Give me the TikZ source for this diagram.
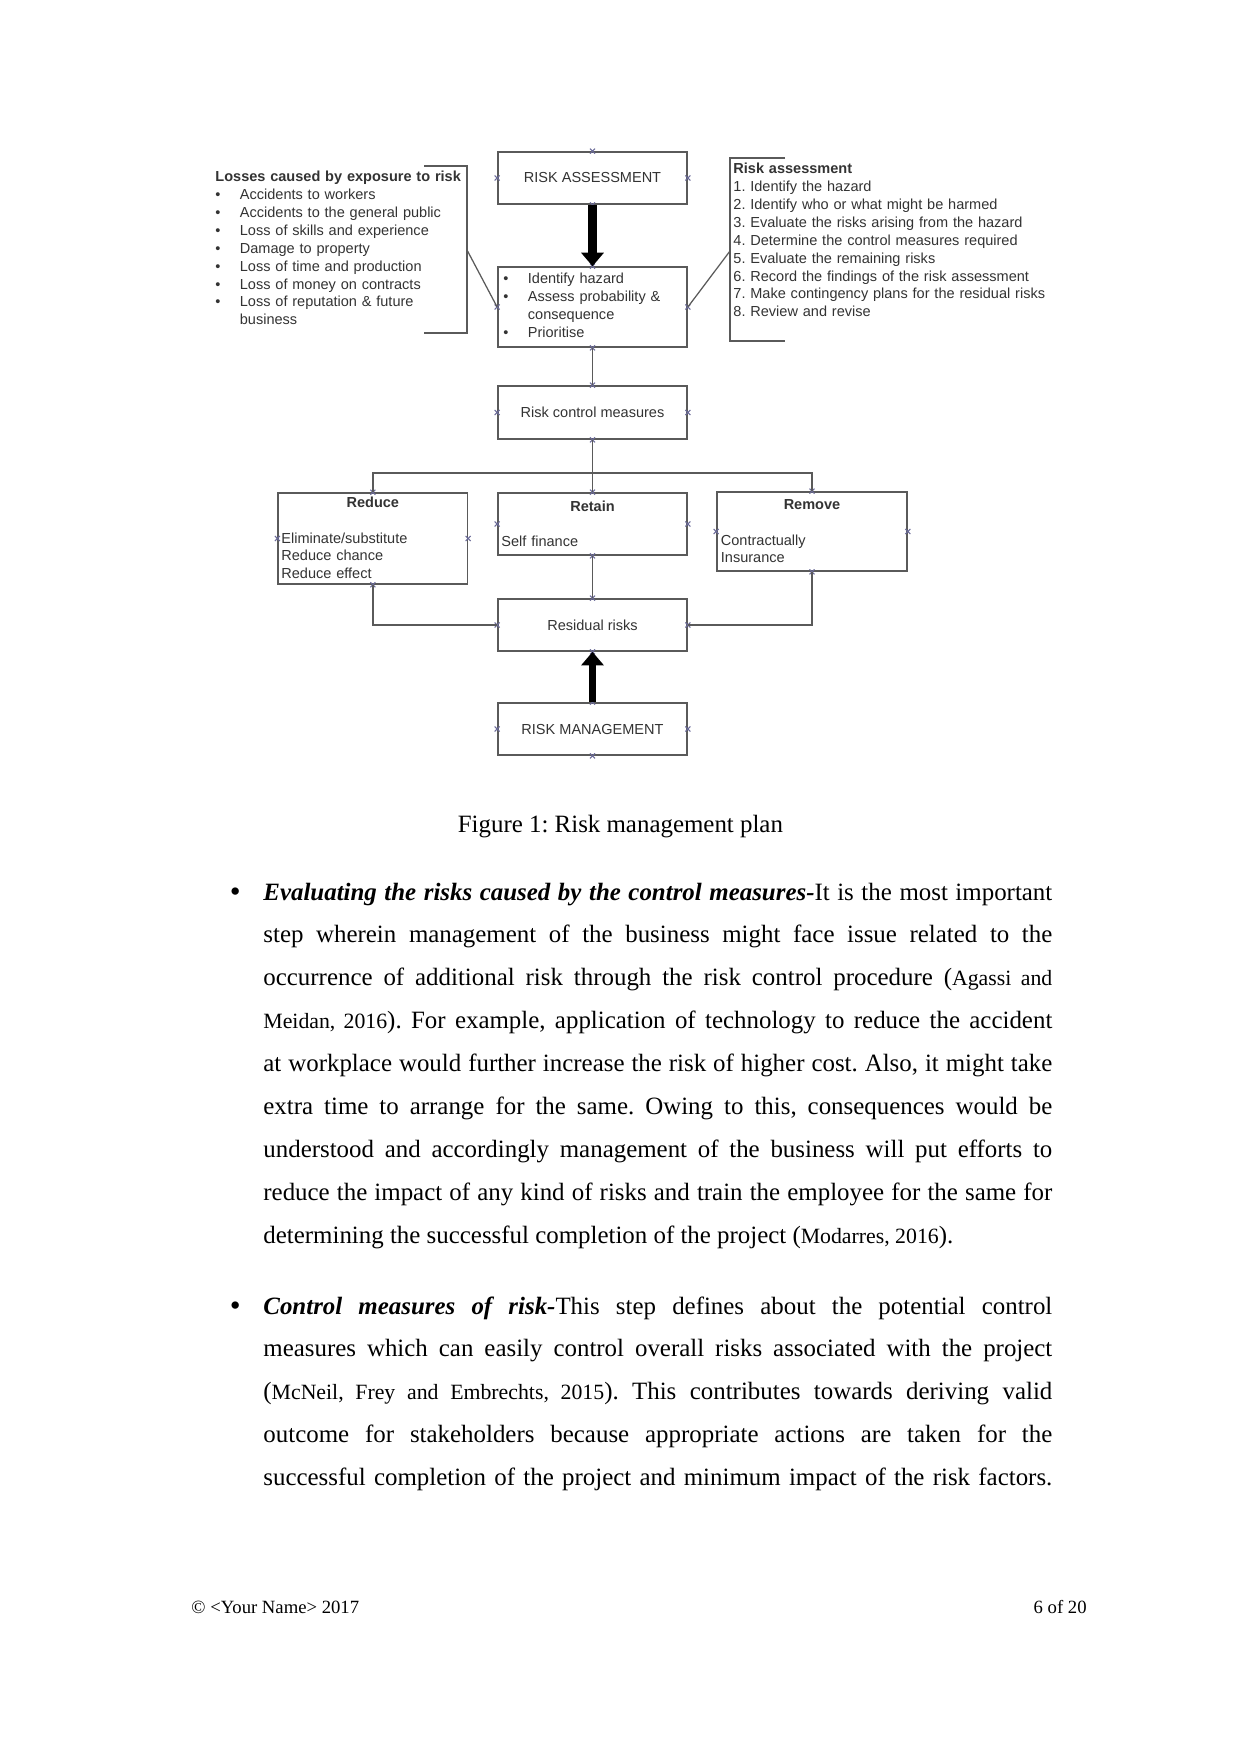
\documentclass[tikz,border=0pt]{standalone}
\usepackage{fontspec}
\setmainfont{Liberation Serif}
\newfontfamily\diagfont{Liberation Sans}
\usepackage{xcolor}
\usetikzlibrary{arrows.meta}

\definecolor{boxline}{HTML}{5A5A5A}
\definecolor{diagtext}{HTML}{333333}
\definecolor{cptcol}{HTML}{6A6A98}
\newlength\bulw
\setlength\bulw{11.8pt}
\newcommand{\lbul}{\makebox[\bulw][l]{\textbullet}}
\newcommand{\citefont}{\fontsize{10.5}{20.7}\selectfont}
\hyphenpenalty=10000
\frenchspacing

\begin{document}
\begin{tikzpicture}[x=0.4818pt, y=-0.4818pt,
  box/.style={draw=boxline, line width=0.8pt, minimum width=91.1pt, inner sep=0pt,
    font=\diagfont\fontsize{7}{8.6}\selectfont, text=diagtext},
  lbl/.style={inner sep=0pt, font=\diagfont\fontsize{7}{8.6}\selectfont, text=diagtext,
    align=left, anchor=base west, text width=80pt},
  ttl/.style={inner sep=0pt, font=\diagfont\bfseries\fontsize{7}{8.6}\selectfont,
    text=diagtext, anchor=base},
  link/.style={draw=boxline, line width=0.8pt},
  fat/.style={line width=4.3pt, -{Triangle[width=10.6pt,length=6.5pt]}},
  cpt/.style={draw=cptcol, line width=0.5pt},
  para/.style={inner sep=0pt, text width=380.1pt, align=justify, anchor=base west,
    font=\fontsize{12}{20.7}\selectfont},
  body/.style={inner sep=0pt, font=\fontsize{12}{14}\selectfont}
]
  \fill[white] (0,0) rectangle (1241,1754);
  \useasboundingbox (0,0) rectangle (1241,1754);

  % Boxes of the plan
  \node[box, minimum height=25.1pt] (ra) at (592.5,178) {RISK ASSESSMENT};
  \node[box, minimum height=38.5pt] (id) at (592.5,307) {};
  \node[box, minimum height=25.5pt] (rcm) at (592.5,412.5) {Risk control measures};
  \node[box, minimum height=43.8pt] (reduce) at (372.8,538.5) {};
  \node[box, minimum height=29.9pt] (retain) at (592.5,524) {};
  \node[box, minimum width=91.5pt, minimum height=38.1pt] (remove) at (812,531.5) {};
  \node[box, minimum height=25.1pt] (resid) at (592.5,625) {Residual risks};
  \node[box, minimum height=25.1pt] (rm) at (592.5,729) {RISK MANAGEMENT};

  % Texts inside the boxes
  \node[lbl, text width=85pt] (idtext) at (503,284)
    {\lbul Identify hazard\\ \lbul Assess probability \&\\ \hspace*{\bulw}consequence\\ \lbul Prioritise};
  \node[ttl] (reducettl) at (372.8,507) {Reduce};
  \node[ttl] (retainttl) at (592.5,511) {Retain};
  \node[ttl] (removettl) at (812,509) {Remove};
  \node[lbl] (reduceitems) at (281,543) {Eliminate/substitute\\Reduce chance\\Reduce effect};
  \node[lbl] (retainitems) at (501,546) {Self finance};
  \node[lbl] (removeitems) at (720.5,545) {Contractually\\Insurance};

  % Side lists
  \node[lbl, text width=135pt] (losses) at (215,182)
    {\textbf{Losses caused by exposure to risk}\\
     \lbul Accidents to workers\\
     \lbul Accidents to the general public\\
     \lbul Loss of skills and experience\\
     \lbul Damage to property\\
     \lbul Loss of time and production\\
     \lbul Loss of money on contracts\\
     \lbul Loss of reputation \& future\\
     \hspace*{\bulw}business};
  \node[lbl, text width=165pt] (steps) at (733,174)
    {\textbf{Risk assessment}\\
     1. Identify the hazard\\
     2. Identify who or what might be harmed\\
     3. Evaluate the risks arising from the hazard\\
     4. Determine the control measures required\\
     5. Evaluate the remaining risks\\
     6. Record the findings of the risk assessment\\
     7. Make contingency plans for the residual risks\\
     8. Review and revise};

  % Connection points
  \foreach \n in {ra,id,rcm,reduce,retain,remove,resid,rm}
    \foreach \a in {north,south,east,west}
      \draw[cpt] (\n.\a) ++(-2.5,-2.5) -- ++(5,5) ++(0,-5) -- ++(-5,5);

  % Brackets round the side lists
  \coordinate (lbk) at (467,250);
  \coordinate (rbk) at (730,251);
  \draw[link] (424,165.7) -| (467,332.7) -- (424,332.7);
  \draw[link] (785,157.7) -| (730,341) -- (785,341);
  \draw[link, line width=0.6pt] (lbk) -- (id.west);
  \draw[link, line width=0.6pt] (rbk) -- (id.east);

  % Connectors
  \coordinate (split) at (592.5,473);
  \draw[fat] (ra.south) -- (id.north);
  \draw[link] (id.south) -- (rcm.north);
  \draw[link] (rcm.south) -- (split);
  \draw[link] (reduce.north) |- (split) -| (remove.north);
  \draw[link] (split) -- (retain.north);
  \draw[link] (retain.south) -- (resid.north);
  \draw[link] (reduce.south) |- (resid.west);
  \draw[link] (remove.south) |- (resid.east);
  \draw[fat, line width=3.4pt] (rm.north) -- (resid.south);

  % Caption and body text
  \node[body, anchor=base] (cap) at (620.4,832) {Figure 1: Risk management plan};
  \node[body, anchor=base, font=\fontsize{13}{14}\selectfont] (bul1) at (235,900) {\textbf{\textit{\textbullet}}};
  \node[para] (p1) at (263,900)
    {\textbf{\textit{Evaluating the risks caused by the control measures-}}It is the most important\linebreak
     step wherein management of the business might face issue related to the\linebreak
     occurrence of additional risk through the risk control procedure ({\citefont Agassi and}\linebreak
     {\citefont Meidan, 2016}). For example, application of technology to reduce the accident\linebreak
     at workplace would further increase the risk of higher cost. Also, it might take\linebreak
     extra time to arrange for the same. Owing to this, consequences would be\linebreak
     understood and accordingly management of the business will put efforts to\linebreak
     reduce the impact of any kind of risks and train the employee for the same for\linebreak
     determining the successful completion of the project ({\citefont Modarres, 2016}).};
  \node[body, anchor=base, font=\fontsize{13}{14}\selectfont] (bul2) at (235,1314) {\textbf{\textit{\textbullet}}};
  \node[para] (p2) at (263,1314)
    {\textbf{\textit{Control measures of risk-}}This step defines about the potential control\linebreak
     measures which can easily control overall risks associated with the project\linebreak
     ({\citefont McNeil, Frey and Embrechts, 2015}). This contributes towards deriving valid\linebreak
     outcome for stakeholders because appropriate actions are taken for the\linebreak
     \makebox[\linewidth][s]{successful completion of the project and minimum impact of the risk factors.}};

  % Footer
  \node[body, anchor=base west, font=\fontsize{9}{11}\selectfont] (foot) at (191,1613)
    {\copyright\ \textless Your Name\textgreater\ 2017};
  \node[body, anchor=base east, font=\fontsize{9}{11}\selectfont] (page) at (1087,1613) {6 of 20};
\end{tikzpicture}
\end{document}
